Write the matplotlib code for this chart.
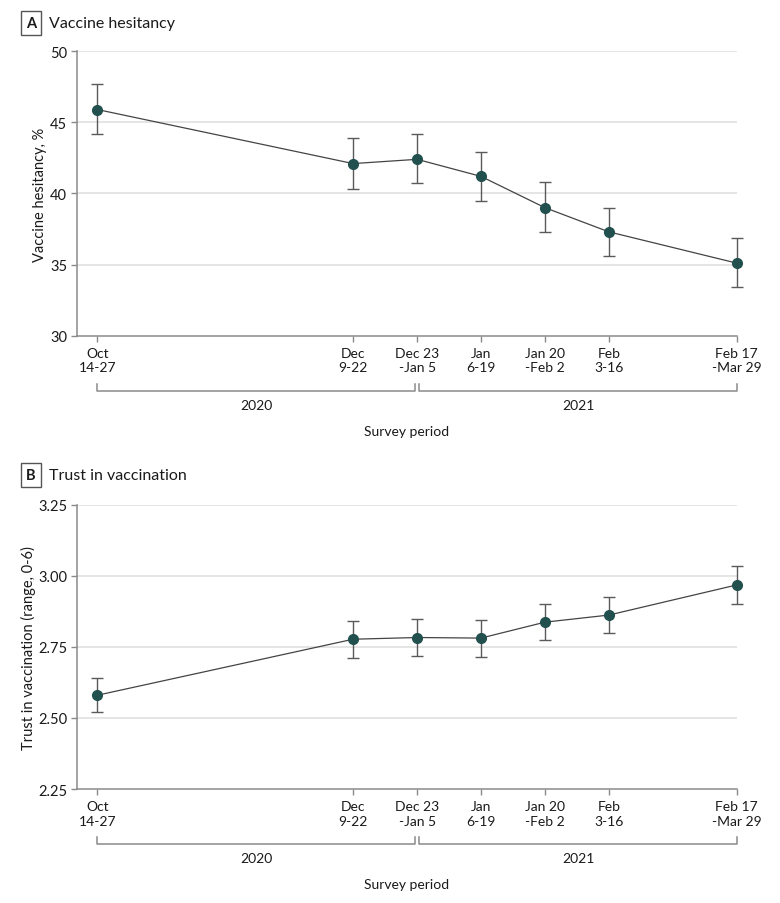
import numpy as np
import matplotlib
matplotlib.use("Agg")
import matplotlib.pyplot as plt
import matplotlib.transforms as mtransforms

plt.rcParams['font.family'] = ['Lato', 'DejaVu Sans']

# Survey periods (position in 2-week steps from Oct 14-27)
periods = ["Oct\n14-27", "Dec\n9-22", "Dec 23\n-Jan 5", "Jan\n6-19",
           "Jan 20\n-Feb 2", "Feb\n3-16", "Feb 17\n-Mar 29"]
period_pos = [0, 4, 5, 6, 7, 8, 10]

# Panel A: vaccine hesitancy, %
hes = [45.9, 42.1, 42.4, 41.2, 39.0, 37.3, 35.1]
hes_lo = [44.2, 40.3, 40.7, 39.5, 37.3, 35.6, 33.4]
hes_hi = [47.7, 43.9, 44.2, 42.95, 40.8, 39.0, 36.9]

# Panel B: trust in vaccination (0-6)
trust = [2.58, 2.777, 2.783, 2.781, 2.837, 2.862, 2.968]
trust_lo = [2.52, 2.711, 2.718, 2.714, 2.774, 2.799, 2.90]
trust_hi = [2.641, 2.841, 2.848, 2.844, 2.90, 2.926, 3.036]

years = ["2020", "2021"]
year_span = [(0, 4.965), (5.035, 10)]

marker_col = '#22504f'
spine_col = '#8a8a8a'
grid_col = '#dedede'
text_col = '#1a1a1a'


def panel(ax, y, lo, hi, yticks, yfmt, ylabel, ylab_x):
    y = np.array(y)
    err = [y - np.array(lo), np.array(hi) - y]
    for t in yticks[1:]:
        ax.axhline(t, color=grid_col, lw=1.1, zorder=0)
    ax.errorbar(period_pos, y, yerr=err, fmt='none', ecolor='#5a5a5a',
                elinewidth=1.0, capsize=4.5, capthick=1.0, zorder=2, clip_on=False)
    ax.plot(period_pos, y, color='#444444', lw=0.9, zorder=3, clip_on=False)
    ax.plot(period_pos, y, 'o', color=marker_col, ms=7, zorder=4, clip_on=False)

    ax.set_xlim(-0.32, 10)
    ax.set_ylim(yticks[0], yticks[-1])
    ax.set_yticks(yticks)
    ax.set_yticklabels([yfmt.format(t) for t in yticks], fontsize=10.5, color=text_col)
    ax.set_xticks(period_pos)
    ax.set_xticklabels(periods, fontsize=10, color=text_col, linespacing=1.25)
    ax.tick_params(axis='both', color=spine_col, length=4, width=1)
    ax.tick_params(axis='x', pad=4)
    ax.tick_params(axis='y', pad=3)
    for s in ['top', 'right']:
        ax.spines[s].set_visible(False)
    for s in ['left', 'bottom']:
        ax.spines[s].set_color(spine_col)
        ax.spines[s].set_linewidth(1.1)
    ax.set_ylabel(ylabel, fontsize=10.5, color=text_col, va='center')
    ax.yaxis.set_label_coords(ylab_x, 0.5)

    # year brackets below tick labels
    tr = mtransforms.blended_transform_factory(ax.transData, ax.transAxes)
    yb, yt = -0.193, -0.170
    for name, (a, b) in zip(years, year_span):
        ax.plot([a, a, b, b], [yt, yb, yb, yt], color=spine_col, lw=1.1,
                transform=tr, clip_on=False)
        ax.text((a + b) / 2, -0.243, name, transform=tr, ha='center', va='center',
                fontsize=10, color=text_col)
    ax.text(0.5, -0.334, "Survey period", transform=ax.transAxes, ha='center',
            va='center', fontsize=10, color=text_col)


fig = plt.figure(figsize=(7.8, 9.04), dpi=100)

axA = fig.add_axes([0.0987, 0.6276, 0.8458, 0.3146])
panel(axA, hes, hes_lo, hes_hi, [30, 35, 40, 45, 50], "{:.0f}",
      "Vaccine hesitancy, %", -0.056)

axB = fig.add_axes([0.0987, 0.1261, 0.8458, 0.3144])
panel(axB, trust, trust_lo, trust_hi, [2.25, 2.50, 2.75, 3.00, 3.25], "{:.2f}",
      "Trust in vaccination (range, 0-6)", -0.0728)

# panel titles with boxed letters
for letter, title, yc in [("A", "Vaccine hesitancy", 904 - 24), ("B", "Trust in vaccination", 904 - 476)]:
    fig.text(31 / 780, yc / 904, letter, ha='center', va='center', fontsize=10.5,
             fontweight='bold', color=text_col,
             bbox=dict(boxstyle='square,pad=0.35', fc='white', ec='#555555', lw=1))
    fig.text(49 / 780, yc / 904, title, ha='left', va='center', fontsize=11.5, color=text_col)

fig.savefig("out.png", dpi=100)
